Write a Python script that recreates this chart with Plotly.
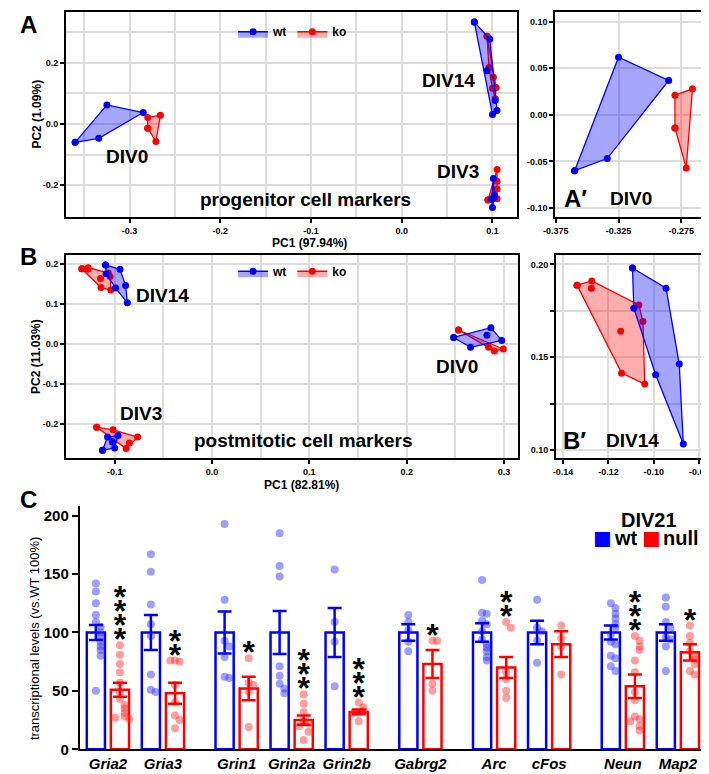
import plotly.graph_objects as go

FONT = "Arial, Liberation Sans, sans-serif"
BLUE = "#0000FF"
RED = "#FF0000"
BLUE_FILL = "rgba(0,0,255,0.35)"
RED_FILL = "rgba(255,0,0,0.32)"
GRID = "#DCDCDC"

# ---------------- panel A: progenitor cell markers (PC1 / PC2) ----------------
A_DIV0_WT_PC1 = [-0.360, -0.334, -0.325, -0.285]
A_DIV0_WT_PC2 = [-0.060, -0.047, 0.062, 0.037]
A_DIV0_KO_PC1 = [-0.280, -0.266, -0.280, -0.271]
A_DIV0_KO_PC2 = [0.021, 0.028, -0.014, -0.057]

A_DIV14_WT_PC1 = [0.080, 0.097, 0.094, 0.103, 0.105, 0.100]
A_DIV14_WT_PC2 = [0.332, 0.277, 0.173, 0.076, 0.044, 0.031]
A_DIV14_KO_PC1 = [0.094, 0.096, 0.101, 0.100, 0.104, 0.103]
A_DIV14_KO_PC2 = [0.286, 0.184, 0.152, 0.116, 0.119, 0.082]

A_DIV3_WT_PC1 = [0.101, 0.102, 0.099, 0.100, 0.1015]
A_DIV3_WT_PC2 = [-0.178, -0.233, -0.246, -0.273, -0.240]
A_DIV3_KO_PC1 = [0.105, 0.105, 0.105, 0.095, 0.105]
A_DIV3_KO_PC2 = [-0.149, -0.187, -0.212, -0.248, -0.244]

# ---------------- panel B: postmitotic cell markers ----------------
B_DIV14_WT_PC1 = [-0.1094, -0.0946, -0.1088, -0.0888, -0.0992, -0.0870]
B_DIV14_WT_PC2 = [0.1980, 0.1872, 0.1764, 0.1464, 0.1406, 0.1034]
B_DIV14_KO_PC1 = [-0.1338, -0.1273, -0.1275, -0.1066, -0.1048, -0.1146, -0.1142, -0.1040]
B_DIV14_KO_PC2 = [0.1888, 0.1911, 0.1871, 0.1782, 0.1693, 0.1640, 0.1415, 0.1356]

B_DIV0_WT_PC1 = [0.2483, 0.2866, 0.2977, 0.2657, 0.2825]
B_DIV0_WT_PC2 = [0.0165, 0.0412, 0.0091, -0.0081, 0.0222]
B_DIV0_KO_PC1 = [0.2533, 0.2842, 0.2902, 0.2993]
B_DIV0_KO_PC2 = [0.0353, -0.0081, -0.0173, -0.0123]

B_DIV3_WT_PC1 = [-0.1074, -0.0967, -0.1000, -0.1125, -0.1024]
B_DIV3_WT_PC2 = [-0.2329, -0.2288, -0.2600, -0.2660, -0.2452]
B_DIV3_KO_PC1 = [-0.1185, -0.1017, -0.0765, -0.0849, -0.0883]
B_DIV3_KO_PC2 = [-0.2080, -0.2148, -0.2329, -0.2477, -0.2617]

# ---------------- panel C: DIV21 transcript levels ----------------
GENES = ["Gria2", "Gria3", "Grin1", "Grin2a", "Grin2b", "Gabrg2", "Arc", "cFos", "Neun", "Map2"]
WT_MEAN = [100, 100, 100, 100, 100, 100, 100, 100, 100, 100]
WT_SEM = [6.5, 15, 18, 18.5, 21, 7, 8, 10, 6, 7]
NULL_MEAN = [51, 48, 52, 25, 32, 73, 70, 90, 54, 83]
NULL_SEM = [6, 9, 10, 4, 2, 12, 9, 11, 10, 7]
STARS = [4, 2, 1, 3, 3, 1, 2, 0, 3, 1]
WT_POINTS = [
    [142, 135, 125, 115, 109, 105, 100, 96, 92, 88, 85, 80, 50],
    [167, 152, 124, 107, 97, 64, 51, 49],
    [193, 128, 93, 88, 79, 62, 61],
    [185, 157, 148, 71, 63, 56, 52, 48],
    [154, 109, 92, 54],
    [115, 109, 102, 92, 84],
    [145, 117, 116, 110, 107, 101, 94, 90, 87, 84, 79, 76],
    [128, 104, 101, 93, 74],
    [125, 121, 116, 112, 107, 104, 98, 92, 90, 80, 78, 71, 67],
    [130, 122, 109, 104, 96, 94, 88, 67],
]
NULL_POINTS = [
    [89, 81, 73, 66, 57, 49, 43, 38, 35, 31, 28, 27, 26],
    [76, 75, 76, 55, 40, 29, 25, 18],
    [78, 57, 55, 49, 19],
    [47, 39, 32, 24, 22, 20, 15, 8],
    [40, 36, 33, 31, 24],
    [93, 93, 56, 50],
    [109, 104, 66, 60, 50, 44],
    [106, 95, 88, 64],
    [97, 93, 88, 85, 76, 66, 49, 42, 28, 26, 24, 20, 16],
    [106, 97, 91, 84, 80, 77, 73, 67, 64],
]


def hull(xs, ys):
    pts = sorted(set(zip(xs, ys)))
    if len(pts) < 3:
        return pts

    def cross(o, a, b):
        return (a[0] - o[0]) * (b[1] - o[1]) - (a[1] - o[1]) * (b[0] - o[0])

    lower, upper = [], []
    for p in pts:
        while len(lower) >= 2 and cross(lower[-2], lower[-1], p) <= 0:
            lower.pop()
        lower.append(p)
    for p in reversed(pts):
        while len(upper) >= 2 and cross(upper[-2], upper[-1], p) <= 0:
            upper.pop()
        upper.append(p)
    return lower[:-1] + upper[:-1]


def cluster(xs, ys, color, fill, name, xa, ya, show=False, legend="legend", rank=1):
    h = hull(xs, ys)
    hx = [p[0] for p in h] + [h[0][0]]
    hy = [p[1] for p in h] + [h[0][1]]
    for x, y in zip(xs, ys):
        if (x, y) not in h:
            hx += [None, x]
            hy += [None, y]
    return go.Scatter(
        x=hx, y=hy, mode="lines+markers", fill="toself", fillcolor=fill,
        line=dict(color=color, width=1.3), marker=dict(color=color, size=7),
        name=name, showlegend=show, legend=legend, legendrank=rank,
        xaxis=xa, yaxis=ya, hoverinfo="skip",
    )


fig = go.Figure()

# panel A + A'
a_sets = [
    (A_DIV0_KO_PC1, A_DIV0_KO_PC2, A_DIV0_WT_PC1, A_DIV0_WT_PC2),
    (A_DIV14_KO_PC1, A_DIV14_KO_PC2, A_DIV14_WT_PC1, A_DIV14_WT_PC2),
    (A_DIV3_KO_PC1, A_DIV3_KO_PC2, A_DIV3_WT_PC1, A_DIV3_WT_PC2),
]
for i, (kx, ky, wx, wy) in enumerate(a_sets):
    fig.add_trace(cluster(kx, ky, RED, RED_FILL, "ko", "x", "y", i == 0, "legend", 2))
    fig.add_trace(cluster(wx, wy, BLUE, BLUE_FILL, "wt", "x", "y", i == 0, "legend", 1))
fig.add_trace(cluster(A_DIV0_KO_PC1, A_DIV0_KO_PC2, RED, RED_FILL, "ko", "x2", "y2"))
fig.add_trace(cluster(A_DIV0_WT_PC1, A_DIV0_WT_PC2, BLUE, BLUE_FILL, "wt", "x2", "y2"))

# panel B + B'
b_sets = [
    (B_DIV14_KO_PC1, B_DIV14_KO_PC2, B_DIV14_WT_PC1, B_DIV14_WT_PC2),
    (B_DIV0_KO_PC1, B_DIV0_KO_PC2, B_DIV0_WT_PC1, B_DIV0_WT_PC2),
    (B_DIV3_KO_PC1, B_DIV3_KO_PC2, B_DIV3_WT_PC1, B_DIV3_WT_PC2),
]
for i, (kx, ky, wx, wy) in enumerate(b_sets):
    fig.add_trace(cluster(kx, ky, RED, RED_FILL, "ko", "x3", "y3", i == 0, "legend2", 2))
    fig.add_trace(cluster(wx, wy, BLUE, BLUE_FILL, "wt", "x3", "y3", i == 0, "legend2", 1))
fig.add_trace(cluster(B_DIV14_KO_PC1, B_DIV14_KO_PC2, RED, RED_FILL, "ko", "x4", "y4"))
fig.add_trace(cluster(B_DIV14_WT_PC1, B_DIV14_WT_PC2, BLUE, BLUE_FILL, "wt", "x4", "y4"))

# panel C : group positions (wider gap after some genes)
gap_after = {"Gria3", "Grin2b", "Gabrg2", "cFos"}
pos, p = [], 0.0
for g in GENES:
    pos.append(p)
    p += 1.34 if g in gap_after else 1.0
OFF = 0.219
wt_x = [q - OFF for q in pos]
nu_x = [q + OFF for q in pos]


def swarm(center, vals, step=0.085, near=6):
    xs = []
    placed = []
    for v in vals:
        k = sum(1 for u in placed if abs(u - v) < near)
        sign = 1 if k % 2 else -1
        xs.append(center + sign * ((k + 1) // 2) * step)
        placed.append(v)
    return xs


fig.add_trace(go.Bar(x=wt_x, y=WT_MEAN, width=0.33, xaxis="x5", yaxis="y5",
                     marker=dict(color="rgba(255,255,255,0)", line=dict(color=BLUE, width=2.5)),
                     showlegend=False, hoverinfo="skip"))
fig.add_trace(go.Bar(x=nu_x, y=NULL_MEAN, width=0.33, xaxis="x5", yaxis="y5",
                     marker=dict(color="rgba(255,255,255,0)", line=dict(color=RED, width=2.5)),
                     showlegend=False, hoverinfo="skip"))

px_w, py_w, px_n, py_n = [], [], [], []
for i in range(len(GENES)):
    px_w += swarm(wt_x[i], WT_POINTS[i])
    py_w += WT_POINTS[i]
    px_n += swarm(nu_x[i], NULL_POINTS[i])
    py_n += NULL_POINTS[i]
fig.add_trace(go.Scatter(x=px_w, y=py_w, mode="markers", xaxis="x5", yaxis="y5",
                         marker=dict(size=8, color="rgba(40,40,255,0.45)"), showlegend=False))
fig.add_trace(go.Scatter(x=px_n, y=py_n, mode="markers", xaxis="x5", yaxis="y5",
                         marker=dict(size=8, color="rgba(255,40,40,0.45)"), showlegend=False))

for xs, m, s, c in [(wt_x, WT_MEAN, WT_SEM, BLUE), (nu_x, NULL_MEAN, NULL_SEM, RED)]:
    fig.add_trace(go.Scatter(x=xs, y=m, mode="markers", xaxis="x5", yaxis="y5",
                             marker=dict(size=1, opacity=0),
                             error_y=dict(type="data", array=s, color=c, thickness=2.5, width=7),
                             showlegend=False, hoverinfo="skip"))

# significance stars stacked above the highest null point
sx, sy = [], []
for i, n in enumerate(STARS):
    for k in range(n):
        sx.append(nu_x[i])
        sy.append(max(NULL_POINTS[i]) + 2.5 + 12 * k)
fig.add_trace(go.Scatter(x=sx, y=sy, mode="text", text=["*"] * len(sx), xaxis="x5", yaxis="y5",
                         textfont=dict(family=FONT, size=32, color="black", weight="bold"),
                         textposition="middle center", showlegend=False, hoverinfo="skip"))


def frame(rng, vals, fmt, domain, anchor, minor=None, blanks=()):
    text = ["" if v in blanks else fmt.format(v) for v in vals]
    d = dict(range=rng, domain=domain, anchor=anchor, tickvals=vals, ticktext=text,
             showline=True, linecolor="black", linewidth=2, mirror=True,
             ticks="outside", ticklen=4, tickwidth=1.5, tickcolor="black",
             showgrid=True, gridcolor=GRID, gridwidth=1.5, zeroline=False,
             tickfont=dict(family=FONT, size=9, color="black", weight="bold"))
    if minor:
        d["minor"] = dict(tickmode="linear", tick0=0, dtick=minor, showgrid=True,
                          gridcolor=GRID, gridwidth=1.5, ticks="")
    return d


W, H = 709, 774


def px_x(v):
    return v / W


def px_y(v):
    return 1 - v / H


dA = [px_y(211), px_y(4)]
dB = [px_y(455), px_y(250)]

fig.update_layout(
    xaxis=frame([-0.370, 0.127], [-0.3, -0.2, -0.1, 0.0, 0.1], "{:.1f}", [px_x(47), px_x(507)], "y", 0.05),
    yaxis=frame([-0.303, 0.365], [-0.2, 0.0, 0.2], "{:.1f}", dA, "x", 0.1),
    xaxis2=frame([-0.3755, -0.2543], [-0.375, -0.325, -0.275], "{:.3f}", [px_x(546), px_x(701)], "y2"),
    yaxis2=frame([-0.1096, 0.1106], [-0.10, -0.05, 0.0, 0.05, 0.10], "{:.2f}", dA, "x2"),
    xaxis3=frame([-0.150, 0.3144], [-0.1, 0.0, 0.1, 0.2, 0.3], "{:.1f}", [px_x(47), px_x(508)], "y3", 0.05),
    yaxis3=frame([-0.286, 0.222], [-0.2, -0.1, 0.0, 0.1, 0.2], "{:.1f}", dB, "x3"),
    xaxis4=frame([-0.143, -0.0765], [-0.14, -0.12, -0.10, -0.08], "{:.2f}", [px_x(547), px_x(701)], "y4"),
    yaxis4=frame([0.0957, 0.2048], [0.100, 0.125, 0.150, 0.175, 0.200], "{:.2f}", dB, "x4",
                 blanks=(0.125, 0.175)),
    xaxis5=dict(range=[-0.511, 10.928], domain=[px_x(61), px_x(703)], anchor="y5",
                tickvals=pos, ticktext=[f"<i>{g}</i>" for g in GENES], ticks="",
                showline=True, linecolor="black", linewidth=2, showgrid=False, zeroline=False,
                tickfont=dict(family=FONT, size=15, color="black", weight="bold")),
    yaxis5=dict(range=[0, 208.5], domain=[px_y(749), px_y(503)], anchor="x5",
                tickvals=[0, 50, 100, 150, 200], ticks="outside", ticklen=6, tickwidth=2,
                tickcolor="black", showline=True, linecolor="black", linewidth=2,
                showgrid=False, zeroline=False,
                tickfont=dict(family=FONT, size=15, color="black", weight="bold")),
    barmode="overlay",
    width=W, height=H, margin=dict(l=0, r=0, t=0, b=0),
    plot_bgcolor="white", paper_bgcolor="white",
    legend=dict(orientation="h", x=px_x(278), xanchor="center", y=px_y(24), yanchor="middle",
                font=dict(family=FONT, size=12, color="black", weight="bold"),
                bgcolor="rgba(0,0,0,0)", itemwidth=30),
    legend2=dict(orientation="h", x=px_x(278), xanchor="center", y=px_y(266), yanchor="middle",
                 font=dict(family=FONT, size=12, color="black", weight="bold"),
                 bgcolor="rgba(0,0,0,0)", itemwidth=30),
)


def note(text, x, y, size, xref="paper", yref="paper", angle=0, bold=True, anchor="center", color="black"):
    return dict(text=text, x=x, y=y, xref=xref, yref=yref, showarrow=False, textangle=angle,
                xanchor=anchor, yanchor="middle",
                font=dict(family=FONT, size=size, color=color, weight="bold" if bold else "normal"))


anns = [
    note("A", px_x(9), px_y(17), 24),
    note("B", px_x(9), px_y(251), 24),
    note("C", px_x(9), px_y(497), 24),
    note("PC2 (1.09%)", px_x(17), px_y(107), 12, angle=-90),
    note("PC1 (97.94%)", px_x(295), px_y(237), 12),
    note("PC2 (11.03%)", px_x(17), px_y(352), 12, angle=-90),
    note("PC1 (82.81%)", px_x(287), px_y(482), 12),
    note("transcriptional levels (vs.WT 100%)", px_x(15), px_y(637), 13, angle=-90, bold=False),
    note("DIV0", -0.303, -0.106, 19, "x", "y"),
    note("DIV14", 0.052, 0.142, 19, "x", "y"),
    note("DIV3", 0.062, -0.155, 19, "x", "y"),
    note("progenitor cell markers", -0.1065, -0.245, 19, "x", "y"),
    note("A\u2032", -0.359, -0.090, 24, "x2", "y2"),
    note("DIV0", -0.315, -0.090, 19, "x2", "y2"),
    note("DIV14", -0.051, 0.121, 19, "x3", "y3"),
    note("DIV0", 0.252, -0.056, 19, "x3", "y3"),
    note("DIV3", -0.0735, -0.175, 19, "x3", "y3"),
    note("postmitotic cell markers", 0.094, -0.241, 19, "x3", "y3"),
    note("B\u2032", -0.1348, 0.1052, 24, "x4", "y4"),
    note("DIV14", -0.1096, 0.1052, 19, "x4", "y4"),
    # panel C key
    note("DIV21", px_x(642), px_y(517), 20),
    note("\u25A0", px_x(594), px_y(536), 31, color=BLUE),
    note("wt", px_x(604), px_y(536), 20, anchor="left"),
    note("\u25A0", px_x(644), px_y(536), 31, color=RED),
    note("null", px_x(654), px_y(536), 20, anchor="left"),
]
fig.update_layout(annotations=anns)

fig.write_html("out.html")
